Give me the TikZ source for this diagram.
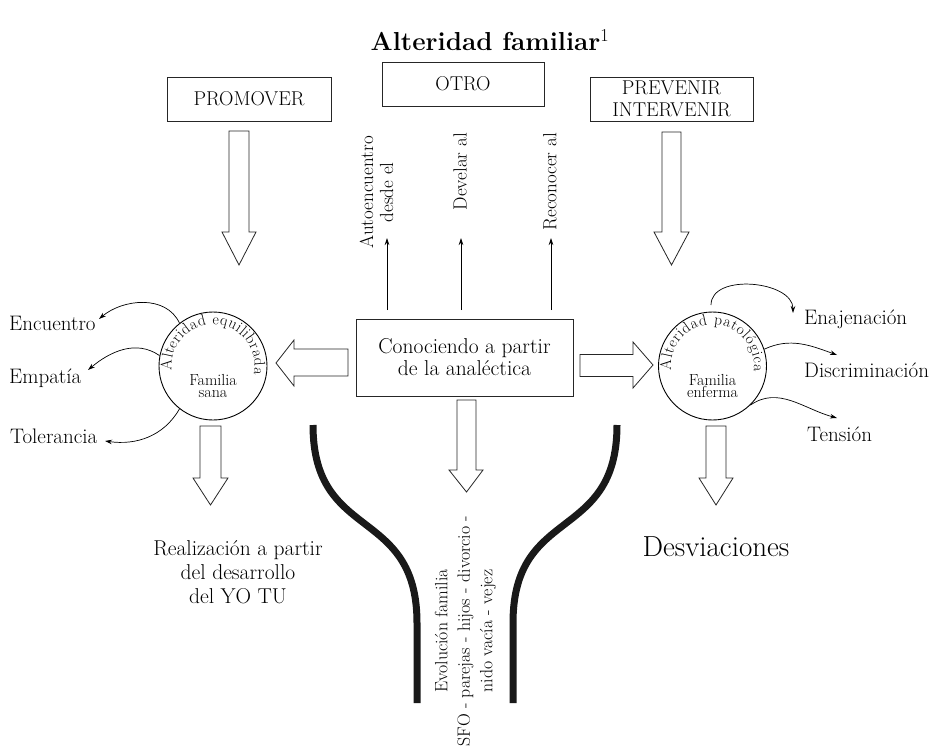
\documentclass[tikz,border=0pt]{standalone}
\usepackage{fontspec}
\usetikzlibrary{arrows.meta,decorations.text}
\newcommand{\fsz}[2]{\fontsize{#1}{#2}\selectfont}
\begin{document}
\begin{tikzpicture}[x=1pt,y=1pt,
  box/.style={draw=black!85, line width=0.8pt, inner sep=0pt, minimum height=44pt, align=center, font=\fsz{20}{21.5}},
  lbl/.style={inner sep=0pt, font=\fsz{21}{24}},
  vtxt/.style={rotate=90, inner sep=0pt, align=center, font=\fsz{19}{20}},
  thinarrow/.style={line width=0.7pt, -{Stealth[length=7pt,width=4.5pt]}},
  fatarrow/.style={draw=black!85, line width=0.8pt, fill=white, line join=miter},
  road/.style={line width=7pt, black!90},
  circ/.style={circle, draw, line width=0.9pt, minimum size=108pt, inner sep=0pt},
  small/.style={inner sep=0pt, align=center, font=\fsz{16}{12.5}},
  arctext/.style={decorate, decoration={text effects along path, text={#1},
    text effects/.cd, text along path, fit text to path,
    characters={font=\fsz{15.5}{15.5}, inner sep=0pt},
    character widths={font=\fsz{15.5}{15.5}, inner sep=0pt}}},
]
\useasboundingbox (0,0) rectangle (945,-752);

% title
\node[inner sep=0pt] (title) at (490,-40) {\fsz{26}{28}\bfseries Alteridad familiar\textsuperscript{\mdseries 1}};

% top boxes
\node[box, minimum width=164pt] (promover) at (249,-99) {PROMOVER};
\node[box, minimum width=162pt] (otro) at (463,-84) {OTRO};
\node[box, minimum width=163pt] (prevenir) at (671.5,-99) {PREVENIR\\INTERVENIR};

% central box
\node[box, minimum width=217pt, minimum height=77pt, font=\fsz{21.5}{22}] (center) at (464.5,-357.5) {Conociendo a partir\\de la analéctica};

% vertical labels
\node[vtxt, anchor=east] (t1) at (376.5,-136) {Autoencuentro\\desde el};
\node[vtxt, anchor=east] (t2) at (460,-133) {Develar al};
\node[vtxt, anchor=east] (t3) at (550,-133) {Reconocer al};

% thin arrows up
\coordinate (a1b) at (387,-310); \coordinate (a1t) at (387,-238);
\coordinate (a2b) at (461,-310); \coordinate (a2t) at (461,-238);
\coordinate (a3b) at (551,-310); \coordinate (a3t) at (551,-238);
\draw[thinarrow] (a1b) -- (a1t);
\draw[thinarrow] (a2b) -- (a2t);
\draw[thinarrow] (a3b) -- (a3t);

% circles
\node[circ] (lc) at (213,-366) {};
\node[circ] (rc) at (712.5,-366) {};
\path[arctext={Alteridad equilibrada}]
  (lc.center) ++(186:41.5) arc[start angle=186, end angle=-12, radius=41.5];
\path[arctext={Alteridad patológica}]
  (rc.center) ++(186:41.5) arc[start angle=186, end angle=-8, radius=41.5];
\node[small] (sana) at (213,-386) {Familia\\sana};
\node[small] (enferma) at (712.5,-386) {Familia\\enferma};

% fat arrows
\draw[fatarrow] (229,-131) -- (249,-131) -- (249,-232) -- (256,-232) -- (239,-265) -- (222,-232) -- (229,-232) -- cycle;
\draw[fatarrow] (662,-132) -- (681,-132) -- (681,-232) -- (689,-232) -- (671.5,-265) -- (654,-232) -- (662,-232) -- cycle;
\draw[fatarrow] (348,-349) -- (348,-376) -- (294,-376) -- (294,-386) -- (276,-363) -- (294,-340) -- (294,-349) -- cycle;
\draw[fatarrow] (580,-354.5) -- (633,-354.5) -- (633,-342) -- (653,-365) -- (633,-388) -- (633,-376.5) -- (580,-376.5) -- cycle;
\draw[fatarrow] (457,-400) -- (476,-400) -- (476,-470) -- (483,-470) -- (466.5,-492) -- (449,-470) -- (457,-470) -- cycle;
\draw[fatarrow] (200,-426) -- (221,-426) -- (221,-478) -- (228,-478) -- (210.5,-505) -- (193,-478) -- (200,-478) -- cycle;
\draw[fatarrow] (706,-426) -- (726,-426) -- (726,-478) -- (733,-478) -- (716,-505) -- (699,-478) -- (706,-478) -- cycle;

% road curves
\draw[road] (313,-425) .. controls (313,-543) and (417,-505) .. (417,-623) -- (417,-703);
\draw[road] (617,-425) .. controls (617,-543) and (513,-505) .. (513,-623) -- (513,-703);

% central rotated text
\node[rotate=90, inner sep=0pt, align=center, font=\fsz{17.8}{22.5}] (evol) at (465.5,-631)
  {Evolución familia\\SFO - parejas - hijos - divorcio -\\nido vacía - vejez};

% left labels
\node[lbl, anchor=base west] (encuentro) at (9,-330) {Encuentro};
\node[lbl, anchor=base west] (empatia) at (9,-383) {Empatía};
\node[lbl, anchor=base west] (tolerancia) at (10,-443) {Tolerancia};
\coordinate (e1) at (99,-319);
\coordinate (e2) at (88,-370);
\coordinate (e3) at (105,-441);
\draw[thinarrow] (lc.128) to[out=115,in=40] (e1);
\draw[thinarrow] (lc.169) to[out=145,in=40] (e2);
\draw[thinarrow] (lc.232) to[out=240,in=-8] (e3);

% right labels
\node[lbl, anchor=base west] (enajenacion) at (804,-324) {Enajenación};
\node[lbl, anchor=base west] (discriminacion) at (804,-377) {Discriminación};
\node[lbl, anchor=base west] (tension) at (807,-441) {Tensión};
\coordinate (s1) at (711,-305);
\coordinate (f1) at (793,-313);
\coordinate (f2) at (837,-355);
\coordinate (f3) at (837,-418);
\draw[thinarrow] (s1) to[out=90,in=90] (f1);
\draw[thinarrow] (rc.18) to[out=25,in=160] (f2);
\draw[thinarrow] (rc.-46) to[out=35,in=165] (f3);

% bottom texts
\node[inner sep=0pt, align=center, font=\fsz{21.5}{24}, anchor=north] (realiz) at (238,-540) {Realización a partir\\del desarrollo\\del YO TU};
\node[inner sep=0pt, font=\fsz{29}{30}, anchor=base] (desv) at (716,-556) {Desviaciones};
\end{tikzpicture}
\end{document}
